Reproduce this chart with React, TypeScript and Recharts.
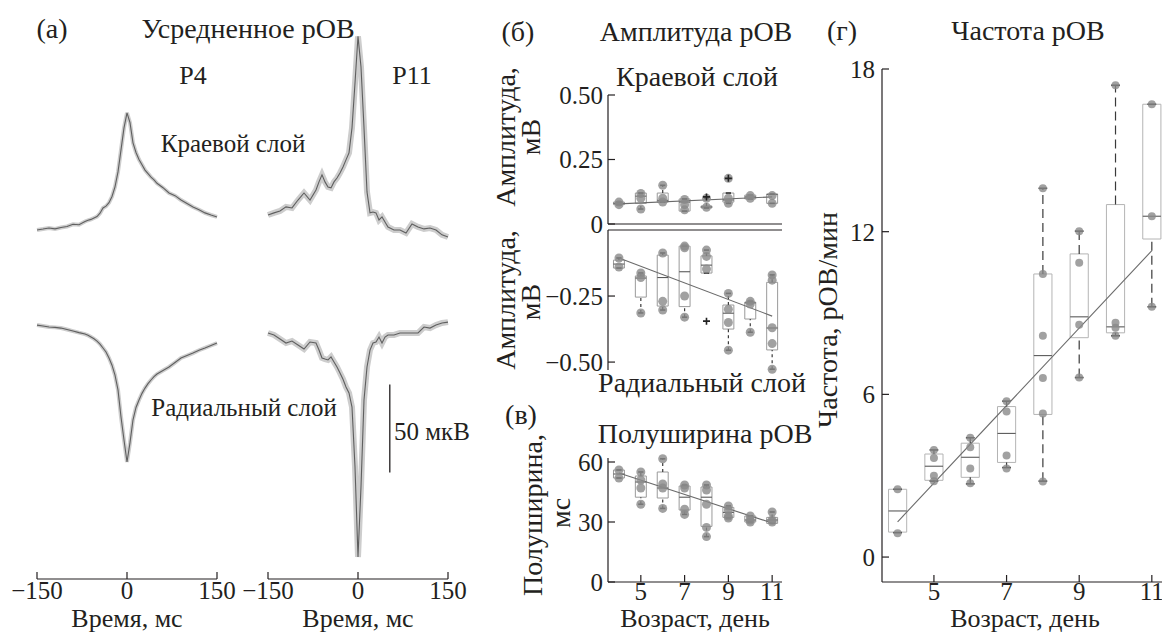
import React from "react";
import {
  ComposedChart,
  Line,
  Scatter,
  XAxis,
  YAxis,
  ReferenceArea,
  ReferenceLine,
} from "recharts";

// ---------------------------------------------------------------------------
// Data
// ---------------------------------------------------------------------------

// (а) averaged waveforms, мкВ, sampled in ms
const traceTime = [
  -150, -140, -130, -120, -110, -100, -90, -80, -70,
  -65, -60, -55, -50, -45, -40, -35, -30, -25, -20, -15, -10, -5, 0, 5, 10, 15, 20, 25, 30, 35, 40, 45, 50,
  60, 70, 80, 90, 100, 110, 120, 130, 140, 150,
];
const p4Edge = [
  0, 0.5, 1.1, 0.6, 1.4, 2.0, 3.2, 3.0, 4.8,
  5.5, 6.0, 6.8, 7.6, 9.5, 12.5, 13.5, 15.5, 19, 24.5, 33, 45.5, 58, 66.5, 61, 49.5, 44, 40, 37, 34, 32, 30, 28.5, 26.5,
  24, 21, 19.5, 17, 15, 13, 11.5, 9.7, 8.5, 7.4,
];
const p4Radial = [
  2.8, 2.3, 1.7, 1.5, 1.1, 0.3, -0.6, -1.5, -2.3,
  -3.0, -4.0, -5.0, -6.3, -8.0, -10.2, -12.5, -15.9, -20, -25.6, -34, -49.4, -62.5, -75, -64, -51, -44, -39.8, -36, -33, -30.5, -28.4, -26.5, -25,
  -23, -21, -18.5, -15.9, -14.5, -13.1, -11.5, -10.2, -8.8, -7.4,
];
const p11Edge = [
  8.5, 9.7, 10.8, 13.1, 12.5, 17, 21, 17, 22.7,
  27.3, 31.3, 27.3, 24.4, 23.9, 27.3, 29.5, 32.4, 35.8, 39.8, 43.8, 58, 83.5, 110, 92.6, 58, 21.6, 9.7, 10.2, 9.7, 5.7, 7.4, 4.5, 1.7,
  0, 0, -1.7, 3.4, 1.7, 0.6, 1.1, 0, -2.8, -4,
];
const p11Radial = [
  -1.7, -2.8, -5.1, -7.4, -6.3, -8.5, -10.8, -6.8, -7.4,
  -11.4, -15.9, -16.5, -17, -15.3, -18.2, -21, -24.4, -28, -32.4, -35.8, -43.8, -77.8, -129, -89, -39.8, -21, -11.4, -7.4, -6.8, -4, -7.4, -4, -2.8,
  -2.8, -1.7, -1.7, -1.7, -1.7, 1.7, 1.1, 2.8, 4, 4.5,
];
const timeTicks = [-150, 0, 150];
const scaleBarUv = 50;
const scaleBarTop = -31;
const scaleBarTime = 53;

// (б–г) age in days; boxes are [lower whisker, Q1, median, Q3, upper whisker]
const days = [4, 5, 6, 7, 8, 9, 10, 11];
const dayTicks = [5, 7, 9, 11];

const ampEdgeBox = [
  [0.075, 0.075, 0.08, 0.085, 0.085],
  [0.058, 0.08, 0.108, 0.12, 0.12],
  [0.085, 0.085, 0.092, 0.12, 0.15],
  [0.05, 0.05, 0.085, 0.097, 0.097],
  [0.062, 0.062, 0.066, 0.07, 0.1],
  [0.08, 0.085, 0.093, 0.12, 0.12],
  [0.097, 0.097, 0.105, 0.112, 0.112],
  [0.08, 0.08, 0.115, 0.116, 0.116],
];
const ampEdgePts = [
  [0.085, 0.075],
  [0.118, 0.1, 0.058],
  [0.15, 0.1, 0.085],
  [0.095, 0.075, 0.055],
  [0.1, 0.065],
  [0.177, 0.1, 0.08],
  [0.11, 0.1],
  [0.11, 0.08],
];
const ampEdgeOut = [[8, 0.105], [9, 0.177]];
const ampEdgeFit = [0.078, 0.105];

const ampRadBox = [
  [-0.144, -0.144, -0.129, -0.114, -0.106],
  [-0.314, -0.254, -0.182, -0.174, -0.163],
  [-0.303, -0.288, -0.18, -0.095, -0.087],
  [-0.33, -0.29, -0.158, -0.061, -0.061],
  [-0.163, -0.163, -0.133, -0.098, -0.076],
  [-0.455, -0.375, -0.315, -0.284, -0.24],
  [-0.387, -0.337, -0.276, -0.273, -0.27],
  [-0.527, -0.454, -0.371, -0.198, -0.17],
];
const ampRadPts = [
  [-0.106, -0.14],
  [-0.163, -0.18, -0.314],
  [-0.087, -0.27, -0.303],
  [-0.061, -0.067, -0.25, -0.33],
  [-0.076, -0.1, -0.148],
  [-0.24, -0.3, -0.35, -0.455],
  [-0.27, -0.28, -0.387],
  [-0.17, -0.19, -0.37, -0.43, -0.527],
];
const ampRadOut = [[8, -0.345]];
const ampRadFit = [-0.106, -0.326];

const widthBox = [
  [52, 52, 54, 56, 56],
  [38.9, 42.4, 50, 53, 55],
  [36.8, 42, 47, 55, 61.6],
  [33.8, 36, 42.4, 48, 48.5],
  [22.7, 27.8, 42.4, 47.5, 48.5],
  [32, 32.3, 34.8, 37.3, 38],
  [30, 30, 31, 33, 33],
  [29.3, 29.3, 31, 32.3, 35],
];
const widthPts = [
  [56, 52],
  [55, 51, 47, 38.9],
  [61.6, 49, 47, 36.8],
  [48.5, 47, 36.4, 33.8],
  [48.5, 46, 38.9, 27.3, 22.7],
  [38, 36, 33, 32],
  [33, 31, 30],
  [35, 31, 30],
];
const widthFit = [54.5, 29.5];

const freqBox = [
  [0.9, 0.92, 1.7, 2.5, 2.5],
  [2.8, 2.83, 3.35, 3.8, 3.95],
  [2.7, 2.94, 3.68, 4.2, 4.4],
  [3.3, 3.49, 4.56, 5.55, 5.75],
  [2.8, 5.26, 7.43, 10.44, 13.6],
  [6.62, 8.09, 8.86, 11.18, 12.02],
  [8.16, 8.27, 8.49, 13.0, 17.4],
  [9.23, 11.73, 12.57, 16.7, 16.7],
];
const freqPts = [
  [2.5, 0.88],
  [3.95, 3.65, 3.0, 2.8],
  [4.4, 4.05, 3.27, 2.72],
  [5.75, 5.37, 3.75, 3.27],
  [13.6, 10.44, 8.16, 6.6, 5.29, 2.79],
  [12.02, 10.85, 8.57, 6.62],
  [17.4, 8.64, 8.46, 8.16],
  [16.7, 12.57, 9.23],
];
const freqFit = [1.3, 11.3];

// ---------------------------------------------------------------------------
// Helpers
// ---------------------------------------------------------------------------

const serif = "'Liberation Serif', 'DejaVu Serif', serif";
const ink = "#231f20";
const tickFont = { fill: ink, fontSize: 25, fontFamily: serif };
const axisStroke = { stroke: ink, strokeWidth: 1.2 };

function minus(v: number): string {
  return v < 0 ? "\u2212" + Math.abs(v) : String(v);
}

function fixed2(v: number): string {
  if (v === 0) return "0";
  return minus(Number(v.toFixed(2))).replace(/(\.\d)$/, "$10");
}

function Text({ x, y, children, rotate, size = 28, align = "center", lh = 0.85 }: any) {
  const tx = align === "left" ? "0" : "-50%";
  return (
    <div
      style={{
        position: "absolute",
        left: x,
        top: y,
        transform: `translate(${tx}, -50%)${rotate ? " rotate(-90deg)" : ""}`,
        fontFamily: serif,
        fontSize: size,
        lineHeight: lh,
        whiteSpace: "nowrap",
        color: ink,
      }}
    >
      {children}
    </div>
  );
}

// ---------------------------------------------------------------------------
// (а) trace column
// ---------------------------------------------------------------------------

function TraceColumn({ left, edge, radial, band, withScale }: any) {
  const padL = 44, padR = 44, xh = 44;
  const w = 180, h = 549, top = 30;
  const edgeData = traceTime.map((t, i) => ({ t, v: edge[i] }));
  const radialData = traceTime.map((t, i) => ({ t, v: radial[i] }));
  return (
    <div style={{ position: "absolute", left: left - padL, top }}>
      <ComposedChart
        width={w + padL + padR}
        height={h + xh}
        margin={{ top: 0, right: padR, left: padL, bottom: 0 }}
      >
        <XAxis
          type="number"
          dataKey="t"
          domain={[-150, 150]}
          ticks={timeTicks}
          interval={0}
          height={xh}
          tickSize={-7}
          tickMargin={9}
          tickFormatter={minus}
          tick={tickFont}
          axisLine={axisStroke}
          tickLine={axisStroke}
        />
        <YAxis yAxisId="edge" type="number" hide domain={[-198.3, 113.6]} />
        <YAxis yAxisId="radial" type="number" hide domain={[-141.5, 170.5]} />
        <Line yAxisId="edge" data={edgeData} dataKey="v" type="linear" stroke="#cdcdcd" strokeWidth={band} dot={false} isAnimationActive={false} />
        <Line yAxisId="edge" data={edgeData} dataKey="v" type="linear" stroke="#5f5f5f" strokeWidth={1.1} dot={false} isAnimationActive={false} />
        <Line yAxisId="radial" data={radialData} dataKey="v" type="linear" stroke="#cdcdcd" strokeWidth={band} dot={false} isAnimationActive={false} />
        <Line yAxisId="radial" data={radialData} dataKey="v" type="linear" stroke="#5f5f5f" strokeWidth={1.1} dot={false} isAnimationActive={false} />
        {withScale && (
          <ReferenceLine
            yAxisId="radial"
            segment={[
              { x: scaleBarTime, y: scaleBarTop },
              { x: scaleBarTime, y: scaleBarTop - scaleBarUv },
            ]}
            stroke={ink}
            strokeWidth={1.3}
            ifOverflow="visible"
          />
        )}
      </ComposedChart>
    </div>
  );
}

// ---------------------------------------------------------------------------
// (б–г) box panel
// ---------------------------------------------------------------------------

function BoxPanel({
  plot, xDomain, yDomain, yTicks, yFmt, xLabels, xTop, boxes, points,
  outliers = [], fit, dash, r, boxStroke, tickGap = 12,
}: any) {
  const yw = 80, xh = 44, padR = 16;
  const padT = xTop ? xh : 12;
  const padB = xTop ? 12 : xh;
  const half = 0.25, cap = 0.12;
  const scatter = days.flatMap((d, i) => points[i].map((y: number) => ({ x: d, y })));
  const out = outliers.map(([x, y]: number[]) => ({ x, y }));

  const marks = boxes.flatMap(([lo, q1, med, q3, hi]: number[], i: number) => {
    const d = days[i];
    const els = [
      <ReferenceArea key={`b${d}`} x1={d - half} x2={d + half} y1={q1} y2={q3} fill="none" stroke={boxStroke} strokeWidth={1} ifOverflow="visible" />,
      <ReferenceLine key={`m${d}`} segment={[{ x: d - half, y: med }, { x: d + half, y: med }]} stroke="#5a5a5a" strokeWidth={1.1} ifOverflow="visible" />,
      <ReferenceLine key={`cl${d}`} segment={[{ x: d - cap, y: lo }, { x: d + cap, y: lo }]} stroke="#2e2e2e" strokeWidth={1.6} ifOverflow="visible" />,
      <ReferenceLine key={`ch${d}`} segment={[{ x: d - cap, y: hi }, { x: d + cap, y: hi }]} stroke="#2e2e2e" strokeWidth={1.6} ifOverflow="visible" />,
    ];
    if (lo < q1)
      els.push(<ReferenceLine key={`wl${d}`} segment={[{ x: d, y: lo }, { x: d, y: q1 }]} stroke="#3a3a3a" strokeDasharray={dash} strokeWidth={1.2} ifOverflow="visible" />);
    if (hi > q3)
      els.push(<ReferenceLine key={`wh${d}`} segment={[{ x: d, y: q3 }, { x: d, y: hi }]} stroke="#3a3a3a" strokeDasharray={dash} strokeWidth={1.2} ifOverflow="visible" />);
    return els;
  });

  return (
    <div style={{ position: "absolute", left: plot.x - yw, top: plot.y - padT }}>
      <ComposedChart
        width={plot.w + yw + padR}
        height={plot.h + padT + padB}
        margin={{ top: xTop ? 0 : padT, bottom: xTop ? padB : 0, left: 0, right: padR }}
      >
        <XAxis
          type="number"
          dataKey="x"
          domain={xDomain}
          ticks={dayTicks}
          interval={0}
          orientation={xTop ? "top" : "bottom"}
          height={xh}
          tickSize={-7}
          tickMargin={7}
          tick={xLabels ? tickFont : false}
          axisLine={axisStroke}
          tickLine={axisStroke}
        />
        <YAxis
          type="number"
          dataKey="y"
          domain={yDomain}
          ticks={yTicks}
          interval={0}
          width={yw}
          tickSize={-7}
          tickMargin={tickGap}
          tickFormatter={yFmt}
          tick={tickFont}
          axisLine={axisStroke}
          tickLine={axisStroke}
        />
        {marks}
        <Scatter
          data={scatter}
          isAnimationActive={false}
          shape={(p: any) => <circle cx={p.cx} cy={p.cy} r={r} fill="#8a8a8a" fillOpacity={0.8} />}
        />
        {out.length > 0 && (
          <Scatter
            data={out}
            isAnimationActive={false}
            shape={(p: any) => (
              <path d={`M${p.cx - 3.5},${p.cy}H${p.cx + 3.5}M${p.cx},${p.cy - 3.5}V${p.cy + 3.5}`} stroke="#222" strokeWidth={1.6} />
            )}
          />
        )}
        <ReferenceLine
          segment={[{ x: days[0], y: fit[0] }, { x: days[days.length - 1], y: fit[1] }]}
          stroke="#6a6a6a"
          strokeWidth={1.1}
          ifOverflow="visible"
        />
      </ComposedChart>
    </div>
  );
}

// ---------------------------------------------------------------------------
// Figure
// ---------------------------------------------------------------------------

export default function App() {
  return (
    <div
      style={{
        position: "absolute",
        left: 0,
        top: 0,
        width: 1162,
        height: 635,
        overflow: "hidden",
        background: "#fff",
      }}
    >
      {/* (а) */}
      <TraceColumn left={37} edge={p4Edge} radial={p4Radial} band={4} />
      <TraceColumn left={268} edge={p11Edge} radial={p11Radial} band={6} withScale />
      <Text x={52} y={29}>(а)</Text>
      <Text x={248} y={29}>Усредненное рОВ</Text>
      <Text x={193} y={76} size={26}>P4</Text>
      <Text x={412} y={76} size={26}>P11</Text>
      <Text x={233} y={144} size={25}>Краевой слой</Text>
      <Text x={244} y={408} size={25}>Радиальный слой</Text>
      <Text x={394} y={432} size={25} align="left">50 мкВ</Text>
      <Text x={127} y={619} size={26} lh={0.75}>Время, мс</Text>
      <Text x={358} y={619} size={26} lh={0.75}>Время, мс</Text>

      {/* (б) */}
      <BoxPanel
        plot={{ x: 608, y: 95, w: 174, h: 129 }}
        xDomain={[3.5, 11.45]}
        yDomain={[0, 0.5]}
        yTicks={[0, 0.25, 0.5]}
        yFmt={fixed2}
        boxes={ampEdgeBox}
        points={ampEdgePts}
        outliers={ampEdgeOut}
        fit={ampEdgeFit}
        dash="3 3"
        r={4.5}
        boxStroke="#9a9a9a"
      />
      <BoxPanel
        plot={{ x: 608, y: 230, w: 174, h: 140 }}
        xDomain={[3.5, 11.45]}
        yDomain={[-0.53, 0]}
        yTicks={[-0.5, -0.25]}
        yFmt={fixed2}
        xTop
        boxes={ampRadBox}
        points={ampRadPts}
        outliers={ampRadOut}
        fit={ampRadFit}
        dash="3 3"
        r={4.5}
        boxStroke="#9a9a9a"
      />
      <Text x={518} y={32}>(б)</Text>
      <Text x={696} y={32}>Амплитуда рОВ</Text>
      <Text x={697} y={77}>Краевой слой</Text>
      <Text x={506} y={137} rotate>Амплитуда,</Text>
      <Text x={531} y={137} rotate>мВ</Text>
      <Text x={506} y={300} rotate>Амплитуда,</Text>
      <Text x={531} y={302} rotate>мВ</Text>
      <Text x={702} y={383}>Радиальный слой</Text>

      {/* (в) */}
      <BoxPanel
        plot={{ x: 608, y: 458, w: 174, h: 124 }}
        xDomain={[3.5, 11.45]}
        yDomain={[0, 62]}
        yTicks={[0, 30, 60]}
        yFmt={minus}
        xLabels
        boxes={widthBox}
        points={widthPts}
        fit={widthFit}
        dash="3 3"
        r={4.5}
        boxStroke="#9a9a9a"
      />
      <Text x={521} y={415}>(в)</Text>
      <Text x={705} y={434}>Полуширина рОВ</Text>
      <Text x={533} y={515} rotate>Полуширина,</Text>
      <Text x={561} y={513} rotate>мс</Text>
      <Text x={695} y={619} size={26} lh={0.75}>Возраст, день</Text>

      {/* (г) */}
      <BoxPanel
        plot={{ x: 882, y: 69, w: 280, h: 513 }}
        xDomain={[3.57, 11.28]}
        yDomain={[-0.92, 18]}
        yTicks={[0, 6, 12, 18]}
        yFmt={minus}
        xLabels
        boxes={freqBox}
        points={freqPts}
        fit={freqFit}
        dash="9 5"
        r={4}
        boxStroke="#b4b4b4"
        tickGap={14}
      />
      <Text x={842} y={31}>(г)</Text>
      <Text x={1028} y={31}>Частота рОВ</Text>
      <Text x={828} y={320} rotate>Частота, рОВ/мин</Text>
      <Text x={1025} y={619} size={26} lh={0.75}>Возраст, день</Text>
    </div>
  );
}
